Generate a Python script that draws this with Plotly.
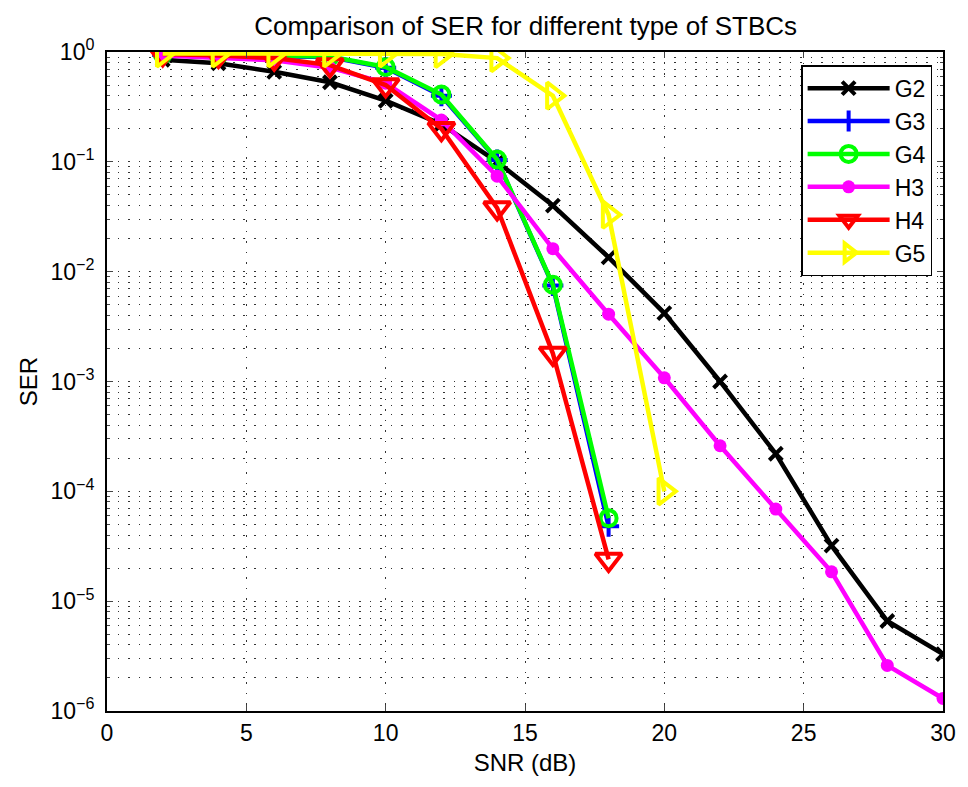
import plotly.graph_objects as go

snr = [2, 4, 6, 8, 10, 12, 14, 16, 18, 20, 22, 24, 26, 28, 30]

ser_g2 = [0.85, 0.79, 0.66, 0.53, 0.36, 0.22, 0.10, 0.040, 0.0135, 0.0042, 0.0010, 2.2e-4, 3.2e-5, 6.6e-6, 3.3e-6]
ser_g3 = [0.94, 0.93, 0.92, 0.90, 0.72, 0.40, 0.104, 0.0075, 4.8e-5]
ser_g4 = [0.95, 0.94, 0.93, 0.91, 0.73, 0.41, 0.105, 0.0076, 5.7e-5]
ser_h3 = [0.93, 0.89, 0.84, 0.72, 0.52, 0.24, 0.074, 0.0162, 0.0041, 0.00108, 2.6e-4, 6.9e-5, 1.85e-5, 2.6e-6, 1.3e-6]
ser_h4 = [0.96, 0.93, 0.88, 0.76, 0.50, 0.20, 0.038, 0.0018, 2.4e-5]
ser_g5 = [0.97, 0.97, 0.97, 0.97, 0.97, 0.96, 0.88, 0.40, 0.033, 1.0e-4]

x_ticks = [0, 5, 10, 15, 20, 25, 30]
y_tickvals = [1, 1e-1, 1e-2, 1e-3, 1e-4, 1e-5, 1e-6]
y_ticktext = ["10<sup>0</sup>", "10<sup>−1</sup>", "10<sup>−2</sup>", "10<sup>−3</sup>",
              "10<sup>−4</sup>", "10<sup>−5</sup>", "10<sup>−6</sup>"]

series = [
    ("G2", ser_g2, "#000000", "x-thin", 13, 4, "#000000"),
    ("G3", ser_g3, "#0000ff", "cross-thin", 15, 4, "#0000ff"),
    ("G4", ser_g4, "#00ff00", "circle-open", 16, 4, "#00ff00"),
    ("H3", ser_h3, "#ff00ff", "circle", 13, 0, "#ff00ff"),
    ("H4", ser_h4, "#ff0000", "triangle-down-open", 23, 4, "#ff0000"),
    ("G5", ser_g5, "#ffff00", "triangle-right-open", 23, 4, "#ffff00"),
]

fig = go.Figure()
for name, vals, color, sym, size, lw, lc in series:
    fig.add_trace(go.Scatter(
        x=snr[:len(vals)], y=vals, name=name, mode="lines+markers",
        line=dict(color=color, width=4.5),
        marker=dict(symbol=sym, size=size, color=color, line=dict(width=lw, color=lc)),
    ))

font = "Liberation Sans, Arial, sans-serif"
grid = dict(showgrid=True, gridcolor="#333333", griddash="1.5px,9px", gridwidth=1)
fig.update_layout(
    width=968, height=787,
    margin=dict(l=107, r=25, t=52, b=76),
    paper_bgcolor="white", plot_bgcolor="white",
    font=dict(family=font, size=23, color="black"),
    title=dict(text="Comparison of SER for different type of STBCs", x=0.543, xanchor="center",
               y=0.967, yanchor="middle", font=dict(size=26)),
    showlegend=True,
    legend=dict(x=0.987, xanchor="right", y=0.980, yanchor="top",
                bordercolor="black", borderwidth=1.5, bgcolor="white",
                font=dict(size=23), tracegroupgap=0, itemwidth=82),
)
fig.update_xaxes(
    range=[0, 30], tickvals=x_ticks, ticks="inside", ticklen=6, tickwidth=1,
    showline=True, linecolor="black", linewidth=2, mirror="ticks",
    zeroline=False, title=dict(text="SNR (dB)", standoff=10, font=dict(size=24)),
    tickfont=dict(size=23), **grid,
)
fig.update_yaxes(
    type="log", range=[-6, 0], tickvals=y_tickvals, ticktext=y_ticktext,
    ticks="inside", ticklen=6, tickwidth=1, ticklabelstandoff=6,
    showline=True, linecolor="black", linewidth=2, mirror="ticks",
    minor=dict(ticks="inside", ticklen=3, dtick="D1", **grid),
    zeroline=False, title=dict(text="SER", standoff=6, font=dict(size=24)),
    tickfont=dict(size=23), **grid,
)

fig.write_html("out.html", post_script="document.body.style.margin='0';",
               config={"displayModeBar": False})
